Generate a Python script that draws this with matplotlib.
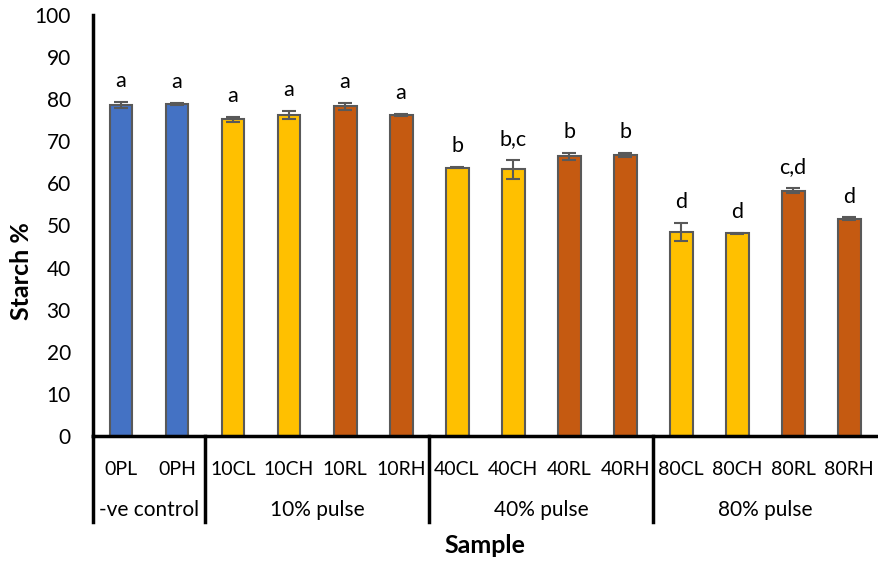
import matplotlib.pyplot as plt
import matplotlib.transforms as mtransforms

plt.rcParams['font.family'] = ['Lato', 'DejaVu Sans']

samples = ['0PL', '0PH', '10CL', '10CH', '10RL', '10RH', '40CL', '40CH', '40RL', '40RH',
           '80CL', '80CH', '80RL', '80RH']
starch = [78.6, 78.8, 75.2, 76.3, 78.3, 76.2, 63.7, 63.3, 66.4, 66.8, 48.4, 48.1, 58.3, 51.6]
errors = [0.8, 0.3, 0.6, 1.0, 0.9, 0.3, 0.1, 2.3, 0.9, 0.5, 2.1, 0.1, 0.6, 0.3]
letters = ['a', 'a', 'a', 'a', 'a', 'a', 'b', 'b,c', 'b', 'b', 'd', 'd', 'c,d', 'd']
groups = ['-ve control', '10% pulse', '40% pulse', '80% pulse']
group_sizes = [2, 4, 4, 4]
colors = ['#4472C4', '#4472C4',
          '#FFC000', '#FFC000', '#C55A11', '#C55A11',
          '#FFC000', '#FFC000', '#C55A11', '#C55A11',
          '#FFC000', '#FFC000', '#C55A11', '#C55A11']

fig = plt.figure(figsize=(8.79, 5.63), dpi=100)
ax = fig.add_axes([0.1058, 0.2256, 0.892, 0.7478])

x = list(range(len(samples)))
ax.bar(x, starch, width=0.41, color=colors, edgecolor='#595959', linewidth=1.5,
       yerr=errors, error_kw=dict(ecolor='#595959', elinewidth=1.5, capsize=5, capthick=1.5))

for i in x:
    ax.text(i, starch[i] + errors[i] + 2.6, letters[i], ha='center', va='bottom', fontsize=15.5)

ax.set_xlim(-0.5, len(samples) - 0.5)
ax.set_ylim(0, 100)
ax.set_yticks(range(0, 101, 10))
ax.tick_params(axis='y', length=0, labelsize=15, pad=16)
ax.tick_params(axis='x', length=0, labelsize=14, pad=18)
ax.set_xticks(x)
ax.set_xticklabels(samples)

for s in ['top', 'right']:
    ax.spines[s].set_visible(False)
ax.spines['left'].set_linewidth(2.5)
ax.spines['bottom'].set_linewidth(2.5)

trans = mtransforms.blended_transform_factory(ax.transData, ax.transAxes)
start = 0
bounds = [-0.5]
for name, n in zip(groups, group_sizes):
    mid = start + (n - 1) / 2
    ax.text(mid, -0.176, name, transform=trans, ha='center', va='center', fontsize=15)
    start += n
    bounds.append(start - 0.5)
for b in bounds[:-1]:
    ax.plot([b, b], [0, -0.205], transform=trans, color='black', lw=2.5, clip_on=False)

fig.text(0.025, 1 - 271 / 563, 'Starch %', rotation=90, ha='center', va='center',
         fontsize=18, fontweight='bold')
ax.text(0.5, -0.259, 'Sample', transform=ax.transAxes, ha='center', va='center',
        fontsize=18, fontweight='bold')

fig.savefig('out.png', dpi=100)
